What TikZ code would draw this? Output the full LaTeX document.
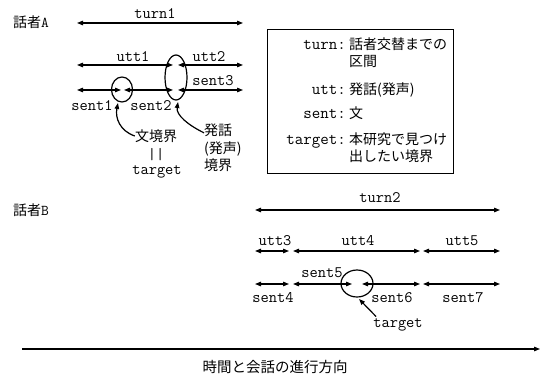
\documentclass[tikz,border=0pt]{standalone}
\usepackage{fontspec}
\newfontfamily\jp{Noto Sans CJK JP}
\usetikzlibrary{arrows.meta,shapes.geometric}
\begin{document}
\begin{tikzpicture}[x=1pt,y=-1pt,
  seg/.style={line width=1.2pt,{Triangle[length=6pt,width=4.5pt]}-{Triangle[length=6pt,width=4.5pt]}},
  pointer/.style={line width=1.2pt,-{Triangle[length=6pt,width=4.5pt]}},
  lbl/.style={font=\fontsize{16}{16}\ttfamily, inner sep=0pt},
  keylbl/.style={font=\fontsize{16.5}{16}\ttfamily, inner sep=0pt, anchor=base east},
  jlbl/.style={font=\fontsize{14}{16}\jp, inner sep=0pt},
  jval/.style={font=\fontsize{14}{16}\jp, inner sep=0pt, anchor=base west},
  ring/.style={draw, ellipse, line width=1.2pt, inner sep=0pt}]
\useasboundingbox (0,0) rectangle (543,374);

% speaker labels
\node[jlbl] (spA) at (31,22) {話者{\fontsize{15}{15}\ttfamily A}};
\node[jlbl] (spB) at (31,210) {話者{\fontsize{15}{15}\ttfamily B}};

% ---------- speaker A ----------
\coordinate (t1a) at (77,23);  \coordinate (t1b) at (243,23);
\draw[seg] (t1a) -- (t1b);
\node[lbl] (lturn1) at (155,14) {turn1};

\coordinate (u1a) at (77,65);  \coordinate (u1b) at (173,65);
\coordinate (u2a) at (178,65); \coordinate (u2b) at (243,65);
\draw[seg] (u1a) -- (u1b);
\draw[seg] (u2a) -- (u2b);
\node[lbl] (lutt1) at (133,57) {utt1};
\node[lbl] (lutt2) at (209,57) {utt2};

\coordinate (s1a) at (77,90);  \coordinate (s1b) at (121,90);
\coordinate (s2a) at (124,90); \coordinate (s2b) at (173,90);
\coordinate (s3a) at (178,90); \coordinate (s3b) at (243,90);
\draw[seg] (s1a) -- (s1b);
\draw[seg] (s2a) -- (s2b);
\draw[seg] (s3a) -- (s3b);
\node[lbl] (lsent1) at (92,106) {sent1};
\node[lbl] (lsent2) at (151,106) {sent2};
\node[lbl] (lsent3) at (213,81) {sent3};

\node[ring, minimum width=21pt, minimum height=25pt] (e1) at (122,89.5) {};
\node[ring, minimum width=22pt, minimum height=45pt] (e2) at (176,77.5) {};

\node[jlbl] (bun) at (156,136) {文境界};
\node[lbl] (eq) at (156,155) {||};
\node[lbl] (tgtA) at (157,172) {target};
\node[jlbl, anchor=west, align=left, font=\fontsize{14}{17.5}\jp] (hatsu) at (204,148) {発話\\(発声)\\境界};

\draw[pointer] (bun.west) .. controls (120,131) and (115,118) .. (118,103);
\draw[pointer] (hatsu.north west)++(0,9) coordinate (hw) (hw) .. controls (188,125) and (176,115) .. (178,102);

% legend box
\node[draw, line width=1pt, minimum width=186pt, minimum height=144pt, inner sep=0pt] (box) at (360,102) {};
\node[keylbl] (kturn) at (346,50) {turn:};
\node[jval] (vturn1) at (349,50) {話者交替までの};
\node[jval] (vturn2) at (349,67) {区間};
\node[keylbl] (kutt) at (346,95) {utt:};
\node[jval] (vutt) at (349,95) {発話(発声)};
\node[keylbl] (ksent) at (346,119) {sent:};
\node[jval] (vsent) at (349,119) {文};
\node[keylbl] (ktgt) at (346,145) {target:};
\node[jval] (vtgt1) at (349,145) {本研究で見つけ};
\node[jval] (vtgt2) at (349,162) {出したい境界};

% ---------- speaker B ----------
\coordinate (t2a) at (255,210); \coordinate (t2b) at (500,210);
\draw[seg] (t2a) -- (t2b);
\node[lbl] (lturn2) at (380,198) {turn2};

\coordinate (u3a) at (255,251); \coordinate (u3b) at (289,251);
\coordinate (u4a) at (293,251); \coordinate (u4b) at (420,251);
\coordinate (u5a) at (423,251); \coordinate (u5b) at (500,251);
\draw[seg] (u3a) -- (u3b);
\draw[seg] (u4a) -- (u4b);
\draw[seg] (u5a) -- (u5b);
\node[lbl] (lutt3) at (275,241) {utt3};
\node[lbl] (lutt4) at (358,241) {utt4};
\node[lbl] (lutt5) at (462,241) {utt5};

\coordinate (s4a) at (255,284); \coordinate (s4b) at (289,284);
\coordinate (s5a) at (293,284); \coordinate (s5b) at (352,284);
\coordinate (s6a) at (362,284); \coordinate (s6b) at (420,284);
\coordinate (s7a) at (423,284); \coordinate (s7b) at (500,284);
\draw[seg] (s4a) -- (s4b);
\draw[seg] (s5a) -- (s5b);
\draw[seg] (s6a) -- (s6b);
\draw[seg] (s7a) -- (s7b);
\node[lbl] (lsent5) at (322,273) {sent5};
\node[lbl] (lsent4) at (273,298) {sent4};
\node[lbl] (lsent6) at (392,298) {sent6};
\node[lbl] (lsent7) at (463,298) {sent7};

\node[ring, minimum width=32pt, minimum height=27pt] (e3) at (357,283.5) {};
\node[lbl] (tgtB) at (398,325) {target};
\draw[pointer] (tgtB.north west)++(3,-2) coordinate (tw) (tw) -- (359,299);

% time axis
\coordinate (axa) at (22,349); \coordinate (axb) at (540,349);
\draw[pointer] (axa) -- (axb);
\node[jlbl, font=\fontsize{14.5}{16}\jp] (time) at (275,367) {時間と会話の進行方向};
\end{tikzpicture}
\end{document}
